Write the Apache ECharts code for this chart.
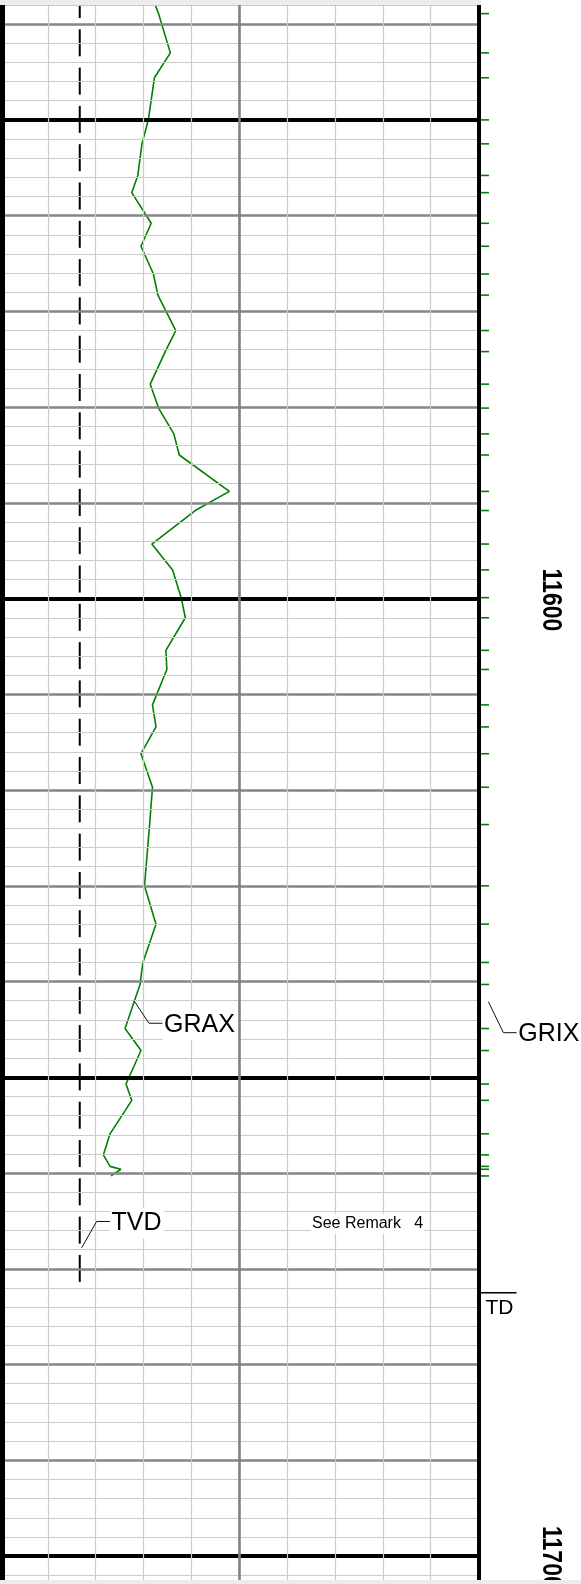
<!DOCTYPE html>
<html>
<head>
<meta charset="utf-8">
<script src="https://cdn.jsdelivr.net/npm/echarts@6/dist/echarts.min.js"></script>
<style>
  html, body { margin: 0; padding: 0; background: #fff; }
  #log { width: 581px; height: 1584px; }
</style>
</head>
<body>
<div id="log"></div>
<script>
// Sample depths (ft) of the gamma-ray run; GRIX ticks mark the same samples
const sampleDepths = [11536.5, 11538.9, 11543.0, 11545.6, 11550.0, 11552.5, 11555.8, 11557.6, 11560.8, 11563.2,
  11566.1, 11568.3, 11572.0, 11574.2, 11577.6, 11580.1, 11582.8, 11585.0, 11588.8, 11590.8,
  11594.3, 11597.0, 11599.9, 11602.0, 11605.4, 11607.4, 11611.1, 11613.4, 11616.2, 11619.7,
  11623.6, 11630.0, 11634.0, 11638.0, 11640.3, 11644.9, 11647.2, 11650.7, 11652.4, 11655.9,
  11658.1, 11659.3, 11659.6, 11660.3];
// GRAX gamma ray (API, track scale 0-150)
const graxValues = [46.9, 49.7, 53.4, 48.4, 46.5, 44.5, 43.2, 41.3, 47.4, 44.2,
  48.1, 49.5, 55.1, 51.8, 47.1, 49.7, 54.5, 56.2, 71.9, 61.2,
  47.6, 54.1, 56.8, 58.1, 52.0, 52.3, 47.8, 48.9, 44.2, 47.8,
  46.9, 45.3, 48.9, 44.8, 43.9, 39.2, 44.2, 39.5, 41.3, 34.5,
  32.4, 34.5, 37.9, 34.8];
// TVD trace (constant track position) down to total depth
const tvdValues = [25, 25];
const tvdDepths = [11530, 11672.5];
const tdDepth = 11672.5;
// Depth annotations
const depthLabels = [11600, 11700];
const trackTicks = [0, 15, 30, 45, 60, 75, 90, 105, 120, 135, 150];

// Visible depth window of the track
const Y_MIN = 11538, Y_MAX = 11702.5;
const FONT = '"Liberation Sans", Arial, Helvetica, sans-serif';

const chart = echarts.init(document.getElementById('log'));

// Depth grid: light every 2 ft, grey every 10 ft, black every 50 ft
const minorLines = [], majorLines = [], heavyLines = [];
for (let d = Y_MIN; d <= Y_MAX; d += 2) {
  if (d % 50 === 0) heavyLines.push({ yAxis: d, lineStyle: { color: '#000', width: 3.8, type: 'solid' } });
  else if (d % 10 === 0) majorLines.push({ yAxis: d, lineStyle: { color: '#858585', width: 2.6, type: 'solid' } });
  else minorLines.push({ yAxis: d, lineStyle: { color: '#cbcbcb', width: 1.2, type: 'solid' } });
}
const trackLines = trackTicks.map(v => {
  if (v === 0) return { xAxis: v, lineStyle: { color: '#000', width: 10, type: 'solid' } };
  if (v === 150) return { xAxis: v, lineStyle: { color: '#000', width: 4, type: 'solid' } };
  if (v === 75) return { xAxis: v, lineStyle: { color: '#808080', width: 2.6, type: 'solid' } };
  return { xAxis: v, lineStyle: { color: '#cbcbcb', width: 1.2, type: 'solid' } };
});
const frameLines = [].concat(minorLines, majorLines, heavyLines, trackLines);

// Long-dash pattern of the TVD trace, in pixels
const TVD_DASH = 27, TVD_GAP = 11.3, TVD_PHASE = 14;

chart.setOption({
  animation: false,
  backgroundColor: '#ffffff',
  grid: { left: 0, top: 5, width: 478.5, height: 1575 },
  xAxis: {
    type: 'value', min: 0, max: 150,
    axisLine: { show: false }, axisTick: { show: false }, axisLabel: { show: false },
    splitLine: { show: false }
  },
  yAxis: {
    type: 'value', inverse: true, min: Y_MIN, max: Y_MAX,
    axisLine: { show: false }, axisTick: { show: false }, axisLabel: { show: false },
    splitLine: { show: false }
  },
  series: [
    {
      name: 'frame', type: 'line', data: [], silent: true,
      markLine: { silent: true, symbol: 'none', label: { show: false }, animation: false, data: frameLines }
    },
    {
      // TVD drawn as explicit long dashes between its two end depths
      name: 'TVD', type: 'custom', silent: true, clip: true,
      data: [[tvdValues[0], tvdDepths[0], tvdValues[1], tvdDepths[1]]],
      renderItem: (params, api) => {
        const a = api.coord([api.value(0), api.value(1)]);
        const b = api.coord([api.value(2), api.value(3)]);
        const children = [];
        for (let y = a[1] - TVD_PHASE; y < b[1]; y += TVD_DASH + TVD_GAP) {
          const y1 = Math.max(y, a[1]), y2 = Math.min(y + TVD_DASH, b[1]);
          if (y2 > y1) children.push({ type: 'line', shape: { x1: a[0], y1: y1, x2: b[0], y2: y2 },
            style: { stroke: '#000', lineWidth: 2 } });
        }
        return { type: 'group', children: children };
      }
    },
    {
      name: 'GRAX', type: 'line', showSymbol: false, silent: true,
      data: sampleDepths.map((d, i) => [graxValues[i], d]),
      lineStyle: { color: '#008000', width: 1.6 }
    },
    {
      name: 'GRIX', type: 'custom', silent: true, clip: false,
      data: sampleDepths.map(d => [150, d]),
      renderItem: (params, api) => {
        const p = api.coord([api.value(0), api.value(1)]);
        if (p[1] < 5) return null;
        return {
          type: 'line',
          shape: { x1: p[0] + 2.2, y1: p[1], x2: p[0] + 10.5, y2: p[1] },
          style: { stroke: '#008000', lineWidth: 1.6 }
        };
      }
    }
  ]
});

const px = (v, d) => chart.convertToPixel({ gridIndex: 0 }, [v, d]);

function callout(anchor, dx, dy, run, text) {
  const a = px(anchor[0], anchor[1]);
  return [
    { type: 'polyline', z: 60, silent: true,
      shape: { points: [[a[0], a[1]], [a[0] + dx, a[1] + dy], [a[0] + run, a[1] + dy]] },
      style: { stroke: '#111', lineWidth: 1, fill: null } },
    { type: 'text', z: 61, silent: true, x: a[0] + run, y: a[1] + dy + 1.5,
      style: { text: text, font: '25px ' + FONT, fill: '#000', align: 'left', verticalAlign: 'middle',
        backgroundColor: '#fff', padding: [3, 3, 3, 1.5] } }
  ];
}

const graphics = [];
graphics.push(...callout([42.0, 11642.0], 15, 22.5, 28.6, 'GRAX'));
graphics.push(...callout([25.6, 11667.8], 15, -26.3, 28.3, 'TVD'));
graphics.push(...callout([153.1, 11642.1], 15, 31, 28.4, 'GRIX'));

const remark = px(97.5, 11665.3);
graphics.push({ type: 'text', z: 61, silent: true, x: remark[0], y: remark[1],
  style: { text: 'See Remark   4', font: '16px ' + FONT, fill: '#000', align: 'left', verticalAlign: 'middle',
    backgroundColor: '#fff', padding: [2, 1, 2, 1] } });

const td = px(150, tdDepth);
graphics.push({ type: 'line', z: 60, silent: true,
  shape: { x1: td[0], y1: td[1], x2: td[0] + 38, y2: td[1] }, style: { stroke: '#000', lineWidth: 1.5 } });
graphics.push({ type: 'text', z: 60, silent: true, x: td[0] + 7, y: td[1] + 5,
  style: { text: 'TD', font: '21px ' + FONT, fill: '#000', align: 'left', verticalAlign: 'top' } });

depthLabels.forEach(d => {
  const p = px(0, d);
  graphics.push({ type: 'text', z: 50, silent: true, x: 550, y: p[1] + 1.3,
    rotation: -Math.PI / 2, scaleY: 1.18,
    style: { text: String(d), font: 'bold 23px ' + FONT, fill: '#000', align: 'center', verticalAlign: 'middle' } });
});

// Page edge bands
graphics.push({ type: 'rect', z: 100, silent: true, shape: { x: 0, y: 0, width: 481, height: 5 }, style: { fill: '#ececec' } });
graphics.push({ type: 'rect', z: 100, silent: true, shape: { x: 0, y: 1580, width: 581, height: 4 }, style: { fill: '#ececec' } });

chart.setOption({ graphic: graphics });
</script>
</body>
</html>
